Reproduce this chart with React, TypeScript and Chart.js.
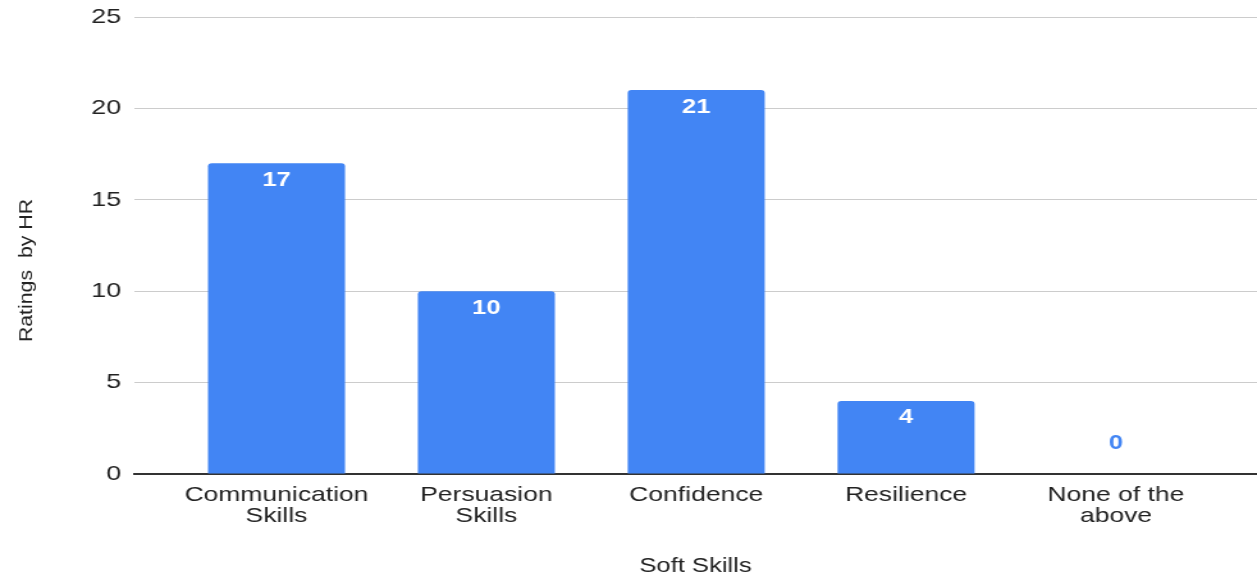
import React, { useEffect, useRef } from 'react';
import { Chart, registerables } from 'chart.js';

Chart.register(...registerables);

// Soft skills rated by HR
const categories: string[][] = [
  ['Communication', 'Skills'],
  ['Persuasion', 'Skills'],
  ['Confidence'],
  ['Resilience'],
  ['None of the', 'above'],
];
const ratings: number[] = [17, 10, 21, 4, 0];
const yTickValues: number[] = [0, 5, 10, 15, 20, 25];
const xAxisTitle = 'Soft Skills';
const yAxisTitle = 'Ratings  by HR';

const FONT = "Arial, 'Liberation Sans', sans-serif";
const BLUE = '#4285F4';
const TEXT = '#222222';

// The chart is drawn on a narrower canvas and widened with CSS, giving the broad lettering.
const PAGE_W = 1257;
const PAGE_H = 579;
const STRETCH = 1.28;
const CANVAS_W = PAGE_W / STRETCH;

// Vertical axis title, drawn a little below the plot's middle, elongated along its reading direction.
const yTitlePlugin = {
  id: 'yTitle',
  afterDraw(chart: any) {
    const { ctx, chartArea } = chart;
    ctx.save();
    ctx.font = `15px ${FONT}`;
    ctx.fillStyle = TEXT;
    ctx.textAlign = 'center';
    ctx.textBaseline = 'middle';
    ctx.translate(20.5, (chartArea.top + chartArea.bottom) / 2 + 25);
    ctx.rotate(-Math.PI / 2);
    ctx.scale(1.42, 1);
    ctx.fillText(yAxisTitle, 0, 0);
    ctx.restore();
  },
};

// Value labels: inside the top of each bar, or above the baseline for empty bars.
const valueLabelPlugin = {
  id: 'valueLabels',
  afterDatasetsDraw(chart: any) {
    const { ctx } = chart;
    const meta = chart.getDatasetMeta(0);
    ctx.save();
    ctx.font = `bold 20px ${FONT}`;
    ctx.textAlign = 'center';
    ctx.textBaseline = 'middle';
    meta.data.forEach((bar: any, i: number) => {
      const v = ratings[i];
      const { x, y } = bar.getProps(['x', 'y'], true);
      if (v > 0) {
        ctx.fillStyle = '#ffffff';
        ctx.fillText(String(v), x, y + 17);
      } else {
        ctx.fillStyle = BLUE;
        ctx.fillText(String(v), x, y - 31);
      }
    });
    ctx.restore();
  },
};

export default function App() {
  const canvasRef = useRef<HTMLCanvasElement | null>(null);

  useEffect(() => {
    if (!canvasRef.current) return;
    const chart = new Chart(canvasRef.current, {
      type: 'bar',
      data: {
        datasets: [
          {
            data: ratings.map((v, i) => ({ x: i, y: v })),
            backgroundColor: BLUE,
            borderRadius: { topLeft: 3, topRight: 3, bottomLeft: 0, bottomRight: 0 },
            borderSkipped: 'start',
            barPercentage: 0.653,
            categoryPercentage: 1,
          },
        ],
      },
      options: {
        animation: false,
        responsive: true,
        maintainAspectRatio: false,
        layout: { padding: { top: 17, left: 0, right: 0, bottom: 0 } },
        plugins: {
          legend: { display: false },
          tooltip: { enabled: false },
        },
        scales: {
          x: {
            type: 'linear',
            offset: false,
            min: -0.679,
            max: 4.672,
            grid: { display: false },
            border: { display: true, color: '#333333', width: 2 },
            afterBuildTicks: (scale: any) => {
              scale.ticks = categories.map((_, i) => ({ value: i }));
            },
            afterFit: (scale: any) => {
              scale.height = 105;
              scale.paddingLeft = 0;
              scale.paddingRight = 0;
            },
            ticks: {
              autoSkip: false,
              maxRotation: 0,
              padding: 3,
              color: TEXT,
              font: { family: FONT, size: 20.7, lineHeight: 1.02 },
              callback: (value: any) => categories[value as number],
            },
            title: {
              display: true,
              text: xAxisTitle,
              color: TEXT,
              font: { family: FONT, size: 20, lineHeight: 1.2 },
              padding: { top: 0, bottom: 1 },
            },
          },
          y: {
            type: 'linear',
            min: 0,
            max: 25,
            afterBuildTicks: (scale: any) => {
              scale.ticks = yTickValues.map((v) => ({ value: v }));
            },
            afterFit: (scale: any) => {
              scale.width = 134 / STRETCH;
              scale.paddingTop = 0;
              scale.paddingBottom = 0;
            },
            grid: { color: '#cccccc', lineWidth: 1, drawTicks: false },
            border: { display: false },
            ticks: {
              padding: 10,
              color: TEXT,
              font: { family: FONT, size: 21 },
            },
          },
        },
      },
      plugins: [yTitlePlugin, valueLabelPlugin],
    } as any);
    return () => chart.destroy();
  }, []);

  return (
    <div style={{ position: 'fixed', left: 0, top: 0, width: PAGE_W, height: PAGE_H, background: '#ffffff', overflow: 'hidden' }}>
      <div
        style={{
          width: CANVAS_W,
          height: PAGE_H,
          transform: `scaleX(${STRETCH})`,
          transformOrigin: '0 0',
        }}
      >
        <canvas ref={canvasRef} />
      </div>
    </div>
  );
}
